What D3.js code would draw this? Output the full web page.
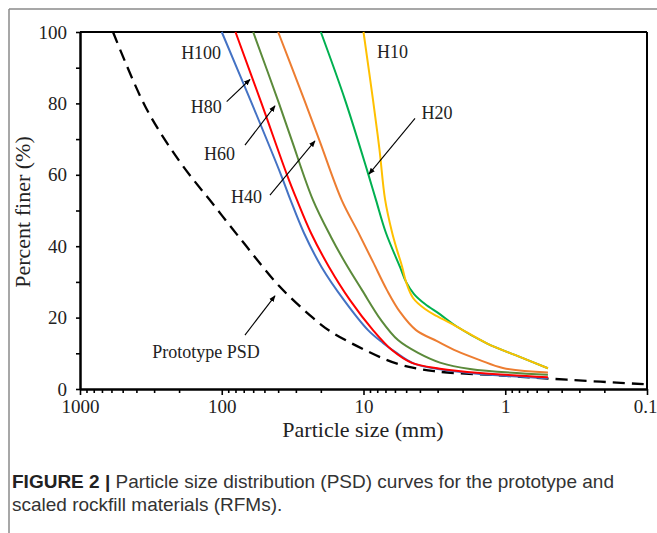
<!DOCTYPE html>
<html>
<head>
<meta charset="utf-8">
<script src="https://cdn.jsdelivr.net/npm/d3@7"></script>
<style>
  body { margin: 0; background: #fff; }
  svg { display: block; }
</style>
</head>
<body>
<svg id="chart" width="657" height="533"></svg>
<script>
// particle size (mm) vs percent finer (%)
var prototypePSD = [[585, 100], [342, 78.7], [197, 63.6], [115.3, 51.8], [67.4, 40.1], [39.5, 28.9], [22.7, 19.9], [17.2, 16.2], [10.08, 11.2], [5.71, 7.0], [3.18, 5.0], [1.09, 3.8], [0.368, 2.6], [0.1, 1.3]];
var h100 = [[100, 100], [61.4, 80], [38.2, 60], [32.7, 52.9], [26.3, 43.7], [19.78, 34.2], [13.73, 24.9], [9.29, 16.5], [7.29, 12.9], [5.99, 10.4], [4.4, 7.1], [2.89, 5.5], [1.51, 4.2], [0.5, 3.0]];
var h80 = [[80, 100], [52.4, 80], [34.65, 60], [29.45, 52.9], [23.47, 43.7], [17.51, 34.2], [12.45, 24.9], [8.57, 16.5], [6.3, 10.9], [4.55, 7.3], [2.89, 5.7], [1.51, 4.5], [0.5, 3.3]];
var h60 = [[60, 100], [39.45, 80], [32.09, 69.7], [22.71, 52.9], [16.96, 42.6], [13.29, 35.0], [10.24, 27.7], [7.52, 19.3], [5.71, 13.7], [4.12, 10.1], [2.89, 7.4], [1.77, 5.6], [0.5, 4.0]];
var h40 = [[40, 100], [28.6, 85], [20.5, 69.7], [14.25, 52.9], [10.93, 44.0], [8.57, 35.6], [6.83, 27.7], [5.53, 21.6], [4.26, 16.5], [3.03, 13.4], [2.19, 10.6], [1.51, 8.1], [1.04, 5.9], [0.5, 4.6]];
var h20 = [[20, 100], [13.5, 81], [9.37, 60.9], [8.16, 52.9], [6.94, 43.7], [5.53, 34.2], [5.01, 30.0], [4.4, 26.6], [3.68, 23.8], [2.88, 20.9], [2.2, 17.5], [1.35, 12.8], [0.79, 9.0], [0.5, 5.8]];
var h10 = [[10, 100], [8.57, 81], [7.71, 67], [7.05, 53.2], [6.29, 43.9], [5.8, 38.9], [5.35, 34.4], [5.01, 30.0], [4.47, 25.5], [3.68, 22.4], [3.03, 20.4], [2.2, 17.5], [1.35, 12.8], [0.79, 9.0], [0.5, 5.8]];

var seriesNames = ['Prototype PSD', 'H100', 'H80', 'H60', 'H40', 'H20', 'H10'];
var seriesColors = ['#000000', '#4472C4', '#FF0000', '#5B8A3A', '#ED7D31', '#00B050', '#FFC000'];
var seriesData = [prototypePSD, h100, h80, h60, h40, h20, h10];

var xMajorTicks = [1000, 100, 10, 1, 0.1];
var xTickLabels = ['1000', '100', '10', '1', '0.1'];
var yMajorTicks = [0, 20, 40, 60, 80, 100];
var yMinorTicks = [10, 30, 50, 70, 90];

var serif = '"Liberation Serif", "Times New Roman", serif';
var svg = d3.select('#chart');

// page frame (grey rule top and left)
svg.append('line').attr('x1', 9).attr('y1', 9).attr('x2', 657).attr('y2', 9)
    .style('stroke', '#8a8a8a').style('stroke-width', 1.5);
svg.append('line').attr('x1', 9).attr('y1', 9).attr('x2', 9).attr('y2', 533)
    .style('stroke', '#8a8a8a').style('stroke-width', 1.5);

var x = d3.scaleLog().domain([1000, 0.1]).range([80, 647]);
var y = d3.scaleLinear().domain([0, 100]).range([389, 32]);

// minor log ticks 2..9 per decade
var xMinorTicks = [];
[100, 10, 1, 0.1].forEach(function (base) {
    for (var k = 2; k <= 9; k++) xMinorTicks.push(base * k);
});

var g = svg.append('g');

// box top/right
g.append('line').attr('x1', 80).attr('x2', 647).attr('y1', y(100)).attr('y2', y(100))
    .style('stroke', '#000').style('stroke-width', 2);
g.append('line').attr('x1', 647).attr('x2', 647).attr('y1', y(100)).attr('y2', y(0))
    .style('stroke', '#000').style('stroke-width', 2);

// x axis
var xAxis = g.append('g').attr('transform', 'translate(0,' + y(0) + ')');
xAxis.call(d3.axisBottom(x).tickValues(xMinorTicks).tickSize(4).tickFormat(''))
    .call(function (a) { a.select('.domain').remove(); });
xAxis.append('g').call(d3.axisBottom(x).tickValues(xMajorTicks).tickSize(6).tickSizeOuter(0)
        .tickFormat(function (d, i) { return xTickLabels[i]; }))
    .call(function (a) {
        a.select('.domain').style('stroke-width', 2.5);
        a.selectAll('text').attr('dy', '0.95em').attr('y', 6)
            .style('font-family', serif).style('font-size', '19px').style('fill', '#222');
        // last label sits against the right edge of the page
        a.selectAll('text').filter(function (d) { return d === 0.1; })
            .attr('text-anchor', 'end').attr('x', 10);
    });
xAxis.selectAll('.tick line').style('stroke', '#000').style('stroke-width', 1.6);

// y axis
var yAxis = g.append('g').attr('transform', 'translate(80,0)');
yAxis.call(d3.axisLeft(y).tickValues(yMinorTicks).tickSize(4).tickFormat(''))
    .call(function (a) { a.select('.domain').remove(); });
yAxis.append('g').call(d3.axisLeft(y).tickValues(yMajorTicks).tickSize(4).tickSizeOuter(0))
    .call(function (a) {
        a.select('.domain').style('stroke-width', 2.5);
        a.selectAll('text').attr('x', -13)
            .style('font-family', serif).style('font-size', '19px').style('fill', '#222');
    });
yAxis.selectAll('.tick line').style('stroke', '#000').style('stroke-width', 1.6);

// axis titles
g.append('text').attr('x', 363).attr('y', 437).attr('text-anchor', 'middle')
    .style('font-family', serif).style('font-size', '22px').style('fill', '#222')
    .text('Particle size (mm)');
g.append('text').attr('transform', 'translate(30,212) rotate(-90)').attr('text-anchor', 'middle')
    .style('font-family', serif).style('font-size', '22px').style('fill', '#222')
    .text('Percent finer (%)');

// curves
var line = d3.line()
    .x(function (d) { return x(d[0]); })
    .y(function (d) { return y(d[1]); })
    .curve(d3.curveCatmullRom.alpha(0.5));

g.selectAll('path.psd')
    .data(seriesData)
    .enter().append('path')
    .attr('class', 'psd')
    .attr('d', line)
    .style('fill', 'none')
    .style('stroke', function (d, i) { return seriesColors[i]; })
    .style('stroke-width', function (d, i) { return i === 0 ? 2.3 : 2; })
    .style('stroke-dasharray', function (d, i) { return i === 0 ? '12,7' : null; });

// annotations
svg.append('defs').append('marker')
    .attr('id', 'arrow')
    .attr('viewBox', '0 0 10 10')
    .attr('refX', 9).attr('refY', 5)
    .attr('markerWidth', 6).attr('markerHeight', 6)
    .attr('orient', 'auto')
    .append('path').attr('d', 'M0,1 L10,5 L0,9 z').style('fill', '#000');

var labels = [
    { text: 'H100', at: [101, 92.4], anchor: 'end' },
    { text: 'H80', at: [100, 77.3], anchor: 'end', from: [92.3, 80.5], to: [63.2, 86.7] },
    { text: 'H60', at: [80.6, 64.1], anchor: 'end', from: [68.6, 68.3], to: [42.1, 79.3] },
    { text: 'H40', at: [52, 52.1], anchor: 'end', from: [45.7, 54.3], to: [22, 69.5] },
    { text: 'H20', at: [3.89, 75.6], anchor: 'start', from: [4.33, 75.8], to: [9.15, 60.2] },
    { text: 'H10', at: [8.03, 92.7], anchor: 'start' },
    { text: 'Prototype PSD', at: [129, 8.7], anchor: 'middle', from: [68.6, 15.1], to: [42.1, 26.1] }
];

labels.forEach(function (l) {
    g.append('text')
        .attr('x', x(l.at[0])).attr('y', y(l.at[1]))
        .attr('text-anchor', l.anchor)
        .style('font-family', serif).style('font-size', '18px').style('fill', '#222')
        .text(l.text);
    if (l.from) {
        g.append('line')
            .attr('x1', x(l.from[0])).attr('y1', y(l.from[1]))
            .attr('x2', x(l.to[0])).attr('y2', y(l.to[1]))
            .style('stroke', '#000').style('stroke-width', 1.1)
            .attr('marker-end', 'url(#arrow)');
    }
});

// caption
var sans = '"Liberation Sans", Arial, sans-serif';
var cap = svg.append('text').attr('x', 12).attr('y', 488)
    .style('font-family', sans).style('font-size', '19px').style('fill', '#333');
cap.append('tspan').style('font-weight', 'bold').style('fill', '#222').text('FIGURE 2 | ');
cap.append('tspan').text('Particle size distribution (PSD) curves for the prototype and');
svg.append('text').attr('x', 12).attr('y', 511)
    .style('font-family', sans).style('font-size', '19px').style('fill', '#333')
    .text('scaled rockfill materials (RFMs).');
</script>
</body>
</html>
